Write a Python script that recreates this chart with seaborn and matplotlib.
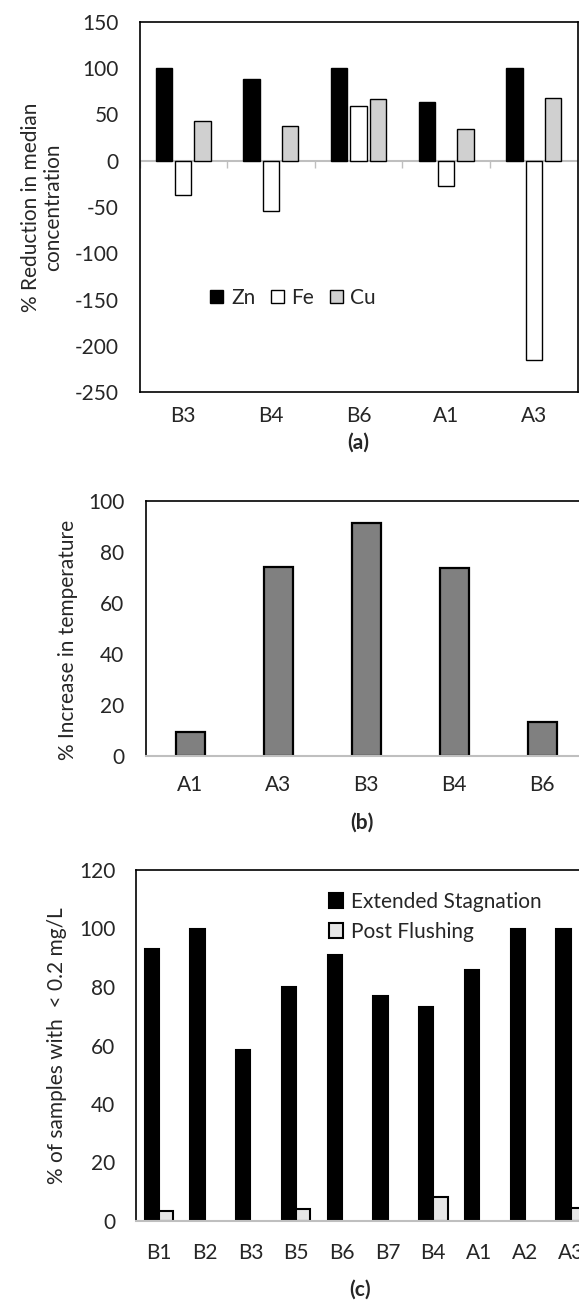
import numpy as np
import pandas as pd
import matplotlib
matplotlib.use('Agg')
import matplotlib.pyplot as plt
import seaborn as sns

# (a) % reduction in median concentration
sites_a = ['B3', 'B4', 'B6', 'A1', 'A3']
zn = [100, 88, 100, 64, 100]
fe = [-37, -54, 59, -27, -215]
cu = [43, 38, 67, 34, 68]

# (b) % increase in temperature
sites_b = ['A1', 'A3', 'B3', 'B4', 'B6']
temp_incr = [9.3, 74, 91.5, 73.7, 13.2]

# (c) % of samples with < 0.2 mg/L
sites_c = ['B1', 'B2', 'B3', 'B5', 'B6', 'B7', 'B4', 'A1', 'A2', 'A3']
extended = [93, 100, 58.5, 80, 91, 77, 73.3, 85.8, 100, 100]
post_flush = [3.5, 0, 0, 4, 0, 0, 8.3, 0, 0, 4.4]

sns.set_style('white')
plt.rcParams['font.family'] = ['Lato', 'DejaVu Sans']
plt.rcParams['font.size'] = 15
plt.rcParams['axes.unicode_minus'] = False

W, H = 579, 1301
fig = plt.figure(figsize=(W / 100, H / 100), dpi=100)


def box(left, top, right, bottom):
    return [left / W, 1 - bottom / H, (right - left) / W, (bottom - top) / H]


GRAY_LINE = '#bfbfbf'

# ---- panel (a)
ax1 = fig.add_axes(box(139.5, 22, 577.5, 392))
df_a = pd.DataFrame({
    'site': sites_a * 3,
    'metal': ['Zn'] * 5 + ['Fe'] * 5 + ['Cu'] * 5,
    'value': zn + fe + cu,
})
sns.barplot(data=df_a, x='site', y='value', hue='metal', ax=ax1,
            palette=['black', 'white', '#d0d0d0'], saturation=1,
            edgecolor='black', linewidth=1, width=0.66, gap=0.15,
            errorbar=None, zorder=2)
ax1.axhline(0, color=GRAY_LINE, lw=1.5, zorder=1)
ax1.vlines(np.arange(len(sites_a) + 1) - 0.5, -8, 0, color=GRAY_LINE, lw=1, zorder=1)
ax1.set_ylim(-250, 150)
ax1.set_xlim(-0.5, len(sites_a) - 0.5)
ax1.set_yticks(range(-250, 151, 50))
ax1.set_xlabel('')
ax1.set_ylabel('% Reduction in median\nconcentration', linespacing=1.1)
ax1.yaxis.set_label_coords(-0.175, 0.5)
ax1.tick_params(axis='y', length=0, pad=15)
ax1.tick_params(axis='x', length=0, pad=10)
for s in ax1.spines.values():
    s.set_color('black')
    s.set_linewidth(1.2)
sns.move_legend(ax1, loc='center left', bbox_to_anchor=(0.138, 0.255), ncol=3,
                frameon=False, title=None, borderpad=0, handlelength=0.63,
                handleheight=0.6, handletextpad=0.36, columnspacing=0.75)

# ---- panel (b)
ax2 = fig.add_axes(box(146.4, 501, 586, 756))
sns.barplot(x=sites_b, y=temp_incr, ax=ax2, color='#808080', saturation=1,
            edgecolor='black', linewidth=1.6, width=0.33, errorbar=None, zorder=2)
ax2.set_ylim(0, 100)
ax2.set_xlim(-0.5, len(sites_b) - 0.5)
ax2.set_yticks(range(0, 101, 20))
ax2.set_ylabel('% Increase in temperature')
ax2.yaxis.set_label_coords(-0.155, 0.455)
ax2.tick_params(axis='y', length=0, pad=16)
ax2.tick_params(axis='x', length=0, pad=14)
for s in ax2.spines.values():
    s.set_color('black')
    s.set_linewidth(1.2)
ax2.spines['bottom'].set_color(GRAY_LINE)
ax2.spines['bottom'].set_linewidth(1.5)
ax2.spines['bottom'].set_zorder(3)

# ---- panel (c)
ax3 = fig.add_axes(box(136, 870, 593.5, 1221))
df_c = pd.DataFrame({
    'site': sites_c * 2,
    'cond': ['Extended Stagnation'] * len(sites_c) + ['Post Flushing'] * len(sites_c),
    'value': extended + post_flush,
})
sns.barplot(data=df_c, x='site', y='value', hue='cond', ax=ax3,
            palette=['black', '#e6e6e6'], saturation=1, edgecolor='black',
            linewidth=1.5, width=0.62, gap=0, errorbar=None, zorder=2)
for p in ax3.patches:
    if p.get_height() == 0:
        p.set_linewidth(0)
ax3.set_ylim(0, 120)
ax3.set_xlim(-0.5, len(sites_c) - 0.5)
ax3.set_yticks(range(0, 121, 20))
ax3.set_xlabel('')
ax3.set_ylabel('% of samples with  < 0.2 mg/L')
ax3.yaxis.set_label_coords(-0.15, 0.5)
ax3.tick_params(axis='y', length=0, pad=15)
ax3.tick_params(axis='x', length=0, pad=16)
for s in ax3.spines.values():
    s.set_color('black')
    s.set_linewidth(1.2)
ax3.spines['bottom'].set_color(GRAY_LINE)
ax3.spines['bottom'].set_linewidth(1.5)
ax3.spines['bottom'].set_zorder(3)
sns.move_legend(ax3, loc='upper left', bbox_to_anchor=(0.398, 0.968), ncol=1,
                frameon=False, title=None, borderpad=0, handlelength=0.7,
                handleheight=0.7, handletextpad=0.4, labelspacing=0.5)

# panel letters
fig.text(358 / W, 1 - 443 / H, '(a)', ha='center', va='center', fontweight='bold')
fig.text(362 / W, 1 - 823 / H, '(b)', ha='center', va='center', fontweight='bold')
fig.text(360 / W, 1 - 1290 / H, '(c)', ha='center', va='center', fontweight='bold')

fig.savefig('out.png', dpi=100)
plt.close(fig)
